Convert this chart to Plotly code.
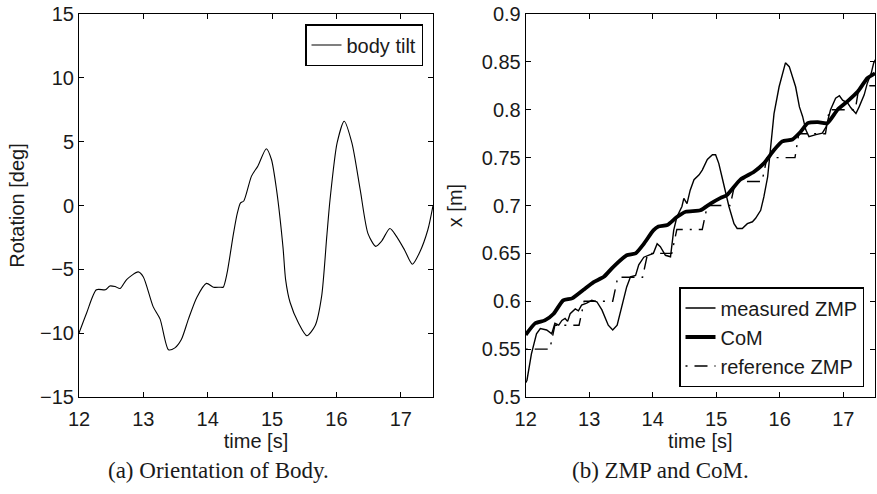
import plotly.graph_objects as go

# ---------------- data ----------------
tilt_t = [12.00, 12.12, 12.27, 12.41, 12.48, 12.56, 12.64, 12.74, 12.92, 13.00,
          13.15, 13.26, 13.39, 13.49, 13.59, 13.70, 13.83, 13.98, 14.09, 14.19,
          14.24, 14.30, 14.40, 14.46, 14.51, 14.56, 14.68, 14.78, 14.91, 14.99,
          15.07, 15.17, 15.21, 15.28, 15.41, 15.54, 15.67, 15.77, 15.85, 15.90,
          16.01, 16.12, 16.24, 16.37, 16.49, 16.61, 16.70, 16.83, 16.93, 17.06,
          17.18, 17.29, 17.42, 17.50]
tilt_deg = [-10.0, -8.4, -6.6, -6.6, -6.3, -6.35, -6.5, -5.8, -5.2, -5.6,
            -7.9, -8.9, -11.3, -11.15, -10.5, -8.9, -7.2, -6.1, -6.4, -6.4,
            -6.4, -5.3, -2.2, -0.6, 0.2, 0.35, 2.3, 3.1, 4.45, 3.6,
            1.2, -3.3, -5.8, -7.6, -9.2, -10.2, -9.4, -7.1, -2.4, 0.45,
            4.9, 6.6, 4.9, 1.2, -2.2, -3.2, -2.8, -1.8, -2.4, -3.5,
            -4.6, -3.7, -1.9, 0.0]

zmp_t = [12.00, 12.02, 12.09, 12.17, 12.23, 12.33, 12.41, 12.46, 12.52, 12.57,
         12.62, 12.66, 12.70, 12.78, 12.83, 12.88, 12.96, 13.04, 13.12, 13.20,
         13.30, 13.37, 13.44, 13.52, 13.59, 13.65, 13.73, 13.78, 13.86, 14.01,
         14.07, 14.12, 14.20, 14.28, 14.33, 14.38, 14.46, 14.49, 14.54, 14.59,
         14.65, 14.73, 14.78, 14.86, 14.94, 14.99, 15.04, 15.09, 15.15, 15.20,
         15.28, 15.33, 15.41, 15.49, 15.57, 15.62, 15.70, 15.75, 15.81, 15.86,
         15.91, 15.99, 16.04, 16.09, 16.15, 16.20, 16.25, 16.31, 16.36, 16.41,
         16.46, 16.57, 16.67, 16.73, 16.80, 16.88, 16.94, 16.99, 17.07, 17.12,
         17.20, 17.25, 17.33, 17.38, 17.44, 17.48, 17.52]
zmp_x = [0.515, 0.5175, 0.545, 0.566, 0.5715, 0.570, 0.566, 0.577, 0.575, 0.580,
         0.582, 0.579, 0.587, 0.592, 0.590, 0.596, 0.598, 0.601, 0.5995, 0.591,
         0.575, 0.570, 0.575, 0.596, 0.615, 0.6255, 0.627, 0.638, 0.646, 0.650,
         0.660, 0.657, 0.648, 0.6465, 0.674, 0.688, 0.699, 0.7075, 0.702, 0.716,
         0.727, 0.732, 0.737, 0.748, 0.753, 0.753, 0.744, 0.730, 0.713, 0.699,
         0.681, 0.676, 0.676, 0.681, 0.683, 0.6866, 0.695, 0.709, 0.730, 0.7615,
         0.796, 0.824, 0.838, 0.849, 0.845, 0.835, 0.824, 0.803, 0.793, 0.779,
         0.772, 0.774, 0.7755, 0.782, 0.800, 0.812, 0.8146, 0.810, 0.807, 0.802,
         0.796, 0.803, 0.8156, 0.828, 0.838, 0.849, 0.854]

com_t = [12.00, 12.15, 12.30, 12.44, 12.59, 12.73, 12.91, 13.07, 13.23, 13.38,
         13.59, 13.73, 13.86, 14.01, 14.09, 14.23, 14.38, 14.52, 14.75, 14.91,
         15.07, 15.17, 15.38, 15.59, 15.75, 15.91, 16.04, 16.20, 16.33, 16.44,
         16.60, 16.75, 16.91, 17.07, 17.23, 17.38, 17.50]
com_x = [0.565, 0.577, 0.580, 0.587, 0.601, 0.603, 0.612, 0.620, 0.6255, 0.636,
         0.648, 0.650, 0.660, 0.674, 0.678, 0.6796, 0.688, 0.6935, 0.695, 0.702,
         0.708, 0.711, 0.727, 0.735, 0.744, 0.758, 0.767, 0.769, 0.777, 0.786,
         0.787, 0.786, 0.800, 0.809, 0.819, 0.833, 0.838]

ref_t = [12.00, 12.38, 12.46, 12.84, 12.92, 13.37, 13.45, 13.84, 13.92, 14.30,
         14.38, 14.78, 14.86, 15.22, 15.30, 15.72, 15.80, 16.24, 16.30, 16.72,
         16.78, 17.19, 17.25, 17.50]
ref_x = [0.550, 0.550, 0.575, 0.575, 0.600, 0.600, 0.625, 0.625, 0.650, 0.650,
         0.675, 0.675, 0.700, 0.700, 0.725, 0.725, 0.750, 0.750, 0.775, 0.775,
         0.800, 0.800, 0.825, 0.825]

t_ticks = [12, 13, 14, 15, 16, 17]
rot_ticks = [-15, -10, -5, 0, 5, 10, 15]
rot_labels = ["\u221215", "\u221210", "\u22125", "0", "5", "10", "15"]
x_ticks = [0.5, 0.55, 0.6, 0.65, 0.7, 0.75, 0.8, 0.85, 0.9]
x_labels = ["0.5", "0.55", "0.6", "0.65", "0.7", "0.75", "0.8", "0.85", "0.9"]

# ---------------- figure ----------------
SANS = "Liberation Sans, Arial, sans-serif"
SERIF = "Liberation Serif, Times New Roman, serif"
W, H = 877, 494
FS = 20
TXT = "#1a1a1a"

fig = go.Figure()
fig.add_trace(go.Scatter(x=tilt_t, y=tilt_deg, mode="lines", name="body tilt",
                         line=dict(color="black", width=1.1, shape="spline", smoothing=0.7),
                         xaxis="x", yaxis="y", legend="legend"))
fig.add_trace(go.Scatter(x=zmp_t, y=zmp_x, mode="lines", name="measured ZMP",
                         line=dict(color="black", width=1.4),
                         xaxis="x2", yaxis="y2", legend="legend2"))
fig.add_trace(go.Scatter(x=com_t, y=com_x, mode="lines", name="CoM",
                         line=dict(color="black", width=3.8, shape="spline", smoothing=0.5),
                         xaxis="x2", yaxis="y2", legend="legend2"))
fig.add_trace(go.Scatter(x=ref_t, y=ref_x, mode="lines", name="reference ZMP",
                         line=dict(color="black", width=1.4, dash="2px,7px,13px,7px"),
                         xaxis="x2", yaxis="y2", legend="legend2"))

ydom = [1 - 397 / H, 1 - 14 / H]
axis_common = dict(showline=True, linecolor="black", linewidth=1, mirror="allticks",
                   ticks="inside", ticklen=5, tickcolor="black", showgrid=False,
                   zeroline=False, tickfont=dict(family=SANS, size=FS, color=TXT),
                   automargin=False)
title_font = dict(family=SANS, size=FS, color=TXT)

fig.update_layout(
    width=W, height=H,
    margin=dict(l=0, r=0, t=0, b=0),
    paper_bgcolor="white", plot_bgcolor="white",
    xaxis=dict(domain=[79 / W, 433 / W], range=[12, 17.5], tickvals=t_ticks,
               ticklabelstandoff=4,
               title=dict(text="time [s]", font=title_font, standoff=3),
               anchor="y", **axis_common),
    yaxis=dict(domain=ydom, range=[-15, 15], tickvals=rot_ticks, ticktext=rot_labels,
               title=dict(text="Rotation [deg]", font=title_font, standoff=10),
               anchor="x", **axis_common),
    xaxis2=dict(domain=[525.7 / W, 875 / W], range=[12, 17.5], tickvals=t_ticks,
                ticklabelstandoff=4,
                title=dict(text="time [s]", font=title_font, standoff=3),
                anchor="y2", **axis_common),
    yaxis2=dict(domain=ydom, range=[0.5, 0.9], tickvals=x_ticks, ticktext=x_labels,
                title=dict(text="x [m]", font=title_font, standoff=13),
                anchor="x2", **axis_common),
    legend=dict(x=423 / W, y=1 - 24 / H, xanchor="right", yanchor="top",
                bordercolor="black", borderwidth=1.5, bgcolor="white",
                font=dict(family=SANS, size=FS, color=TXT)),
    legend2=dict(x=864 / W, y=1 - 387 / H, xanchor="right", yanchor="bottom",
                 bordercolor="black", borderwidth=1.5, bgcolor="white",
                 font=dict(family=SANS, size=FS, color=TXT)),
    showlegend=True,
)

fig.add_annotation(text="(a) Orientation of Body.", x=218 / W, y=1 - 470 / H,
                   xref="paper", yref="paper", xanchor="center", yanchor="middle",
                   showarrow=False, font=dict(family=SERIF, size=23, color=TXT))
fig.add_annotation(text="(b) ZMP and CoM.", x=660 / W, y=1 - 470 / H,
                   xref="paper", yref="paper", xanchor="center", yanchor="middle",
                   showarrow=False, font=dict(family=SERIF, size=23, color=TXT))

fig.write_html("out.html")
